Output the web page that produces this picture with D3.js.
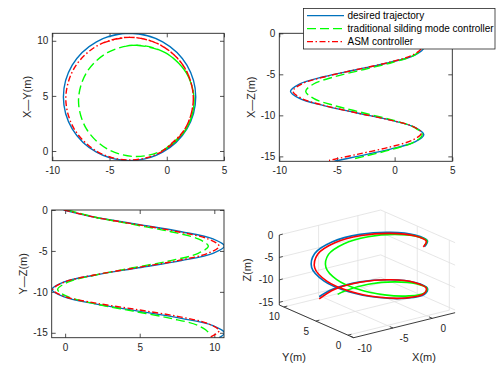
<!DOCTYPE html>
<html>
<head>
<meta charset="utf-8">
<script src="https://cdn.jsdelivr.net/npm/d3@7"></script>
<style>
  body { margin: 0; background: #fff; }
  svg { display: block; font-family: "Liberation Sans", Arial, Helvetica, sans-serif; }
</style>
</head>
<body>
<svg id="chart" width="496" height="367"></svg>
<script>
// series (x, y, z in metres)
const seriesNames = ['desired trajectory', 'traditional silding mode controller', 'ASM controller'];

const desiredX = [-0.36, 1.76, 2.53, 1.76, -0.36, -3.25, -6.14, -8.26, -9.03, -8.26, -6.14, -3.25, -0.36, 1.76, 2.53, 1.76, -0.36, -3.25, -5.23];
const desiredY = [-0.11, 2.01, 4.90, 7.79, 9.91, 10.68, 9.91, 7.79, 4.90, 2.01, -0.11, -0.88, -0.11, 2.01, 4.90, 7.79, 9.91, 10.68, 10.33];
const desiredZ = [0, -0.88, -1.76, -2.65, -3.53, -4.41, -5.29, -6.18, -7.06, -7.94, -8.82, -9.71, -10.59, -11.47, -12.35, -13.24, -14.12, -15.00, -15.59];

const smcX = [-0.14, 1.71, 2.39, 1.71, -0.14, -2.66, -5.19, -7.03, -7.71, -7.03, -5.19, -2.66, -0.14, 1.71, 2.39, 1.71, -0.14, -2.66, -3.54];
const smcY = [0.18, 2.03, 4.55, 7.08, 8.92, 9.60, 8.92, 7.08, 4.55, 2.03, 0.18, -0.50, 0.18, 2.03, 4.55, 7.08, 8.92, 9.60, 9.52];
const smcZ = [0, -0.88, -1.76, -2.65, -3.53, -4.41, -5.29, -6.18, -7.06, -7.94, -8.82, -9.71, -10.59, -11.47, -12.35, -13.24, -14.12, -15.00, -15.29];

const asmX = [-0.47, 1.57, 2.32, 1.57, -0.47, -3.25, -6.04, -8.07, -8.82, -8.07, -6.04, -3.25, -0.47, 1.57, 2.32, 1.57, -0.47, -3.25, -5.69];
const asmY = [-0.07, 1.97, 4.75, 7.54, 9.57, 10.32, 9.57, 7.54, 4.75, 1.97, -0.07, -0.82, -0.07, 1.97, 4.75, 7.54, 9.57, 10.32, 9.76];
const asmZ = [0, -0.88, -1.76, -2.65, -3.53, -4.41, -5.29, -6.18, -7.06, -7.94, -8.82, -9.71, -10.55, -11.35, -12.15, -13.00, -13.88, -14.75, -15.50];

// tick labels
const xTicks = [-10, -5, 0, 5];
const yTicks = [0, 5, 10];
const zTicks = [0, -5, -10, -15];
const x3Ticks = [-10, -5, 0];

const svg = d3.select('#chart');
const ink = '#262626';
const gridColor = '#dfdfdf';

const styles = [
  { color: '#0072bd', dash: null },
  { color: '#00ff00', dash: '9,4' },
  { color: '#ff0000', dash: '6,2.5,1.5,2.5' }
];

const series = [
  { x: desiredX, y: desiredY, z: desiredZ },
  { x: smcX, y: smcY, z: smcZ },
  { x: asmX, y: asmY, z: asmZ }
];

function styleAxis(g) {
  g.select('.domain').remove();
  g.selectAll('line').attr('stroke', ink).attr('stroke-width', 0.8);
  g.selectAll('text').attr('fill', ink).attr('font-size', 10).attr('font-family', null);
}

// 2D panel
function panel(id, box, xDom, yDom, xKey, yKey, xt, yt, label, labelX) {
  const x = d3.scaleLinear().domain(xDom).range([box.l, box.r]);
  const y = d3.scaleLinear().domain(yDom).range([box.b, box.t]);
  const g = svg.append('g');

  g.append('clipPath').attr('id', id)
    .append('rect')
    .attr('x', box.l).attr('y', box.t)
    .attr('width', box.r - box.l).attr('height', box.b - box.t);

  g.append('g').attr('transform', `translate(0,${box.b})`)
    .call(d3.axisBottom(x).tickValues(xt).tickSize(-4).tickSizeOuter(0).tickPadding(6).tickFormat(String))
    .call(styleAxis);
  g.append('g').attr('transform', `translate(0,${box.t})`)
    .call(d3.axisTop(x).tickValues(xt).tickSize(-4).tickSizeOuter(0).tickFormat(''))
    .call(styleAxis);
  g.append('g').attr('transform', `translate(${box.l},0)`)
    .call(d3.axisLeft(y).tickValues(yt).tickSize(-4).tickSizeOuter(0).tickPadding(4).tickFormat(String))
    .call(styleAxis);
  g.append('g').attr('transform', `translate(${box.r},0)`)
    .call(d3.axisRight(y).tickValues(yt).tickSize(-4).tickSizeOuter(0).tickFormat(''))
    .call(styleAxis);

  const line = d3.line()
    .x(d => x(d[0]))
    .y(d => y(d[1]))
    .curve(d3.curveCatmullRom.alpha(0.5));

  series.forEach((s, i) => {
    g.append('path')
      .datum(d3.zip(s[xKey], s[yKey]))
      .attr('clip-path', `url(#${id})`)
      .attr('fill', 'none')
      .attr('stroke', styles[i].color)
      .attr('stroke-width', 1.4)
      .attr('stroke-dasharray', styles[i].dash)
      .attr('d', line);
  });

  g.append('rect')
    .attr('x', box.l).attr('y', box.t)
    .attr('width', box.r - box.l).attr('height', box.b - box.t)
    .attr('fill', 'none').attr('stroke', ink).attr('stroke-width', 0.9);

  g.append('text')
    .attr('transform', `translate(${labelX},${(box.t + box.b) / 2}) rotate(-90)`)
    .attr('text-anchor', 'middle')
    .attr('dominant-baseline', 'central')
    .attr('font-size', 11)
    .attr('fill', ink)
    .text(label);
}

panel('c1', { l: 52.3, r: 224, t: 33.3, b: 160.7 }, [-10, 5], [-0.88, 10.68], 'x', 'y', xTicks, yTicks, 'X—Y(m)', 27);
panel('c2', { l: 279.3, r: 452.3, t: 33.3, b: 161.3 }, [-10, 5], [-15.6, 0], 'x', 'z', xTicks, zTicks, 'X—Z(m)', 251);
panel('c3', { l: 51.7, r: 224, t: 210, b: 337.7 }, [-0.9, 10.65], [-15.6, 0], 'y', 'z', yTicks, zTicks, 'Y—Z(m)', 23);

// 3D panel (oblique view)
const x3 = d3.scaleLinear().domain([-10, 2.9]).range([0, 1]);
const y3 = d3.scaleLinear().domain([-0.9, 10.7]).range([1, 0]);
const z3 = d3.scaleLinear().domain([-15.6, 0]).range([0, 1]);
const origin = [279.3, 305];
const ex = [101.4, -25], ey = [74.4, 32.7], ez = [0, -70];
const [xMin, xMax] = x3.domain(), [yMin, yMax] = y3.domain(), [zMin, zMax] = z3.domain();

function proj(x, y, z) {
  const a = x3(x), b = y3(y), c = z3(z);
  return [origin[0] + a * ex[0] + b * ey[0] + c * ez[0],
          origin[1] + a * ex[1] + b * ey[1] + c * ez[1]];
}

const g3 = svg.append('g');
function seg(p, q, color, w) {
  g3.append('line')
    .attr('x1', p[0]).attr('y1', p[1]).attr('x2', q[0]).attr('y2', q[1])
    .attr('stroke', color).attr('stroke-width', w);
}

// grid on floor and back walls
x3Ticks.forEach(v => {
  seg(proj(v, yMax, zMin), proj(v, yMin, zMin), gridColor, 0.8);
  seg(proj(v, yMax, zMin), proj(v, yMax, zMax), gridColor, 0.8);
});
yTicks.forEach(v => {
  seg(proj(xMin, v, zMin), proj(xMax, v, zMin), gridColor, 0.8);
  seg(proj(xMax, v, zMin), proj(xMax, v, zMax), gridColor, 0.8);
});
zTicks.forEach(v => {
  seg(proj(xMin, yMax, v), proj(xMax, yMax, v), gridColor, 0.8);
  seg(proj(xMax, yMax, v), proj(xMax, yMin, v), gridColor, 0.8);
});

// axis lines
seg(proj(xMin, yMax, zMin), proj(xMin, yMax, zMax), ink, 0.9);
seg(proj(xMin, yMax, zMin), proj(xMin, yMin, zMin), ink, 0.9);
seg(proj(xMin, yMin, zMin), proj(xMax, yMin, zMin), ink, 0.9);

// ticks and labels
zTicks.forEach(v => {
  const p = proj(xMin, yMax, v);
  seg(p, [p[0] + 3.5, p[1] - 0.9], ink, 0.8);
  g3.append('text').attr('x', p[0] - 6).attr('y', p[1])
    .attr('text-anchor', 'end').attr('dominant-baseline', 'central')
    .attr('font-size', 10).attr('fill', ink).text(String(v));
});
yTicks.forEach(v => {
  const p = proj(xMin, v, zMin);
  seg(p, [p[0] + 3.5, p[1] - 0.9], ink, 0.8);
  g3.append('text').attr('x', p[0] - 9.5).attr('y', p[1] + 10)
    .attr('text-anchor', 'middle').attr('dominant-baseline', 'central')
    .attr('font-size', 10).attr('fill', ink).text(String(v));
});
x3Ticks.forEach(v => {
  const p = proj(v, yMin, zMin);
  seg(p, [p[0] - 3.2, p[1] - 1.4], ink, 0.8);
  g3.append('text').attr('x', p[0] + 11).attr('y', p[1] + 10.5)
    .attr('text-anchor', 'middle').attr('dominant-baseline', 'central')
    .attr('font-size', 10).attr('fill', ink).text(String(v));
});

g3.append('text').attr('x', 294).attr('y', 357)
  .attr('text-anchor', 'middle').attr('dominant-baseline', 'central')
  .attr('font-size', 11).attr('fill', ink).text('Y(m)');
g3.append('text').attr('x', 424).attr('y', 357)
  .attr('text-anchor', 'middle').attr('dominant-baseline', 'central')
  .attr('font-size', 11).attr('fill', ink).text('X(m)');
g3.append('text').attr('transform', 'translate(247,270) rotate(-90)')
  .attr('text-anchor', 'middle').attr('dominant-baseline', 'central')
  .attr('font-size', 11).attr('fill', ink).text('Z(m)');

const line3 = d3.line()
  .x(d => proj(d[0], d[1], d[2])[0])
  .y(d => proj(d[0], d[1], d[2])[1])
  .curve(d3.curveCatmullRom.alpha(0.5));

series.forEach((s, i) => {
  g3.append('path')
    .datum(d3.zip(s.x, s.y, s.z))
    .attr('fill', 'none')
    .attr('stroke', styles[i].color)
    .attr('stroke-width', 1.6)
    .attr('d', line3);
});

// legend
const lg = svg.append('g');
lg.append('rect')
  .attr('x', 303.5).attr('y', 8.5).attr('width', 191.5).attr('height', 40.5)
  .attr('fill', '#fff').attr('stroke', ink).attr('stroke-width', 0.8);
seriesNames.forEach((name, i) => {
  const yy = 15.7 + i * 13;
  lg.append('line')
    .attr('x1', 307).attr('x2', 344).attr('y1', yy).attr('y2', yy)
    .attr('stroke', styles[i].color).attr('stroke-width', 1.2)
    .attr('stroke-dasharray', styles[i].dash);
  lg.append('text')
    .attr('x', 347.5).attr('y', yy)
    .attr('dominant-baseline', 'central')
    .attr('font-size', 10).attr('fill', '#000')
    .text(name);
});
</script>
</body>
</html>
